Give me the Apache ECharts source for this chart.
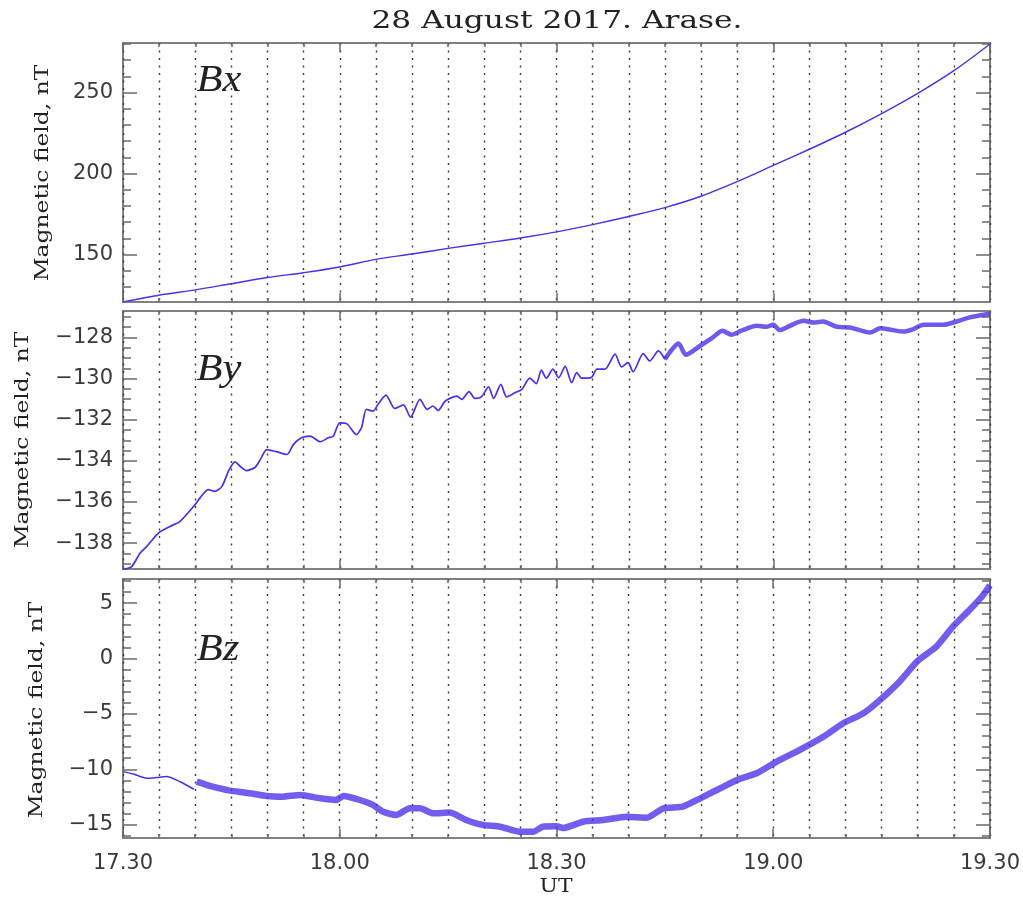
<!DOCTYPE html>
<html>
<head>
<meta charset="utf-8">
<title>28 August 2017. Arase.</title>
<script src="https://cdn.jsdelivr.net/npm/echarts@6/dist/echarts.min.js"></script>
<style>
  html, body { margin: 0; padding: 0; background: #ffffff; }
  #chart { width: 1023px; height: 900px; }
</style>
</head>
<body>
<div id="chart"></div>
<script>
// Time axis: minutes after 17:30 UT
const xTickMinutes = [0, 30, 60, 90, 120];
const xTickLabels = ['17.30', '18.00', '18.30', '19.00', '19.30'];

// Bx component, nT
const bxTime = [0, 5, 10, 15, 20, 25, 30, 35, 40, 45, 50, 55, 60, 65, 70, 75, 80, 85, 90, 95, 100, 105, 110, 115, 120];
const bxValues = [120.8, 124.9, 128.2, 132.0, 135.8, 138.8, 142.3, 147.0, 150.3, 153.8, 157.0, 160.2, 164.0, 168.5, 173.5, 179.0, 186.0, 195.0, 205.0, 215.0, 225.5, 237.0, 249.5, 263.5, 280.0];

// By component, nT
const byTime = [0, 1.2, 2.35, 3.3, 4.9, 6.5, 7.9, 9.97, 10.66, 11.8, 12.7, 13.7, 14.6, 15.5, 16.2, 17.1, 18.3, 19.0, 19.9, 21.3,
  22.7, 23.6, 24.7, 25.9, 27.3, 28.4, 29.1, 30.0, 31.0, 32.3, 33.0, 33.7, 34.6, 35.3, 36.4, 37.6, 38.8, 39.8, 41.1, 42.1,
  42.9, 43.6, 44.6, 46.2, 46.9, 47.9, 48.7, 49.6, 50.6, 51.3, 52.3, 53.1, 54.3, 55.2, 56.3, 57.2, 57.9, 58.6, 59.5, 60.3,
  61.2, 62.1, 62.8, 63.5, 64.8, 65.6, 66.7, 68.1, 69.0, 69.9, 70.6, 72.0, 72.9, 74.1, 75.0, 76.9, 77.9, 79.9, 81.5, 83.0,
  84.2, 85.6, 87.7, 89.0, 90.0, 90.9, 92.3, 94.2, 95.6, 96.9, 98.8, 100.6, 103.4, 104.8, 106.6, 108.0, 109.4, 110.8, 113.6, 114.9,
  117.2, 119.1, 120];
const byValues = [-139.28, -139.14, -138.49, -138.16, -137.51, -137.19, -136.94, -136.13, -135.80, -135.40, -135.48, -135.24, -134.50, -134.05, -134.26, -134.47, -134.31, -133.94, -133.45, -133.56,
  -133.69, -133.20, -132.88, -132.80, -133.07, -132.88, -132.80, -132.15, -132.20, -132.72, -132.39, -131.50, -131.58, -131.25, -130.80, -131.45, -131.28, -131.87, -131.01, -131.50,
  -131.33, -131.55, -131.09, -130.85, -131.01, -130.63, -130.96, -130.89, -130.40, -130.96, -130.28, -130.89, -130.68, -130.52, -129.98, -130.24, -129.59, -129.98, -129.54, -129.95,
  -129.40, -130.20, -129.71, -129.98, -129.95, -129.54, -129.54, -128.81, -129.43, -129.22, -129.66, -128.78, -129.14, -128.65, -129.06, -128.29, -128.84, -128.40, -128.03, -127.67,
  -127.87, -127.67, -127.43, -127.48, -127.38, -127.64, -127.43, -127.19, -127.27, -127.22, -127.48, -127.51, -127.76, -127.55, -127.64, -127.71, -127.59, -127.38, -127.38, -127.27,
  -127.02, -126.89, -126.86];

// Bz component, nT
const bzTime = [0, 1.4, 3.3, 4.6, 6.0, 7.9, 9.8, 10.2, 12.0, 14.8, 17.1, 19.9, 22.1, 24.5, 27.3, 29.5, 30.5, 32.8, 34.6, 36.0,
  37.8, 39.7, 41.1, 42.9, 45.2, 47.5, 49.8, 52.2, 54.9, 56.8, 58.1, 60.0, 60.9, 63.7, 66.5, 69.7, 72.5, 74.8, 77.5, 79.9,
  82.2, 85.0, 87.7, 90.5, 93.7, 97.0, 99.7, 102.5, 104.8, 107.5, 109.9, 112.6, 114.9, 117.2, 119.1, 120];
const bzValues = [-10.21, -10.42, -10.81, -10.75, -10.66, -11.12, -11.80, -11.12, -11.50, -11.93, -12.11, -12.41, -12.47, -12.32, -12.62, -12.77, -12.41, -12.77, -13.22, -13.83,
  -14.12, -13.52, -13.52, -13.97, -13.91, -14.57, -15.02, -15.18, -15.63, -15.63, -15.18, -15.15, -15.30, -14.73, -14.58, -14.28, -14.37, -13.52, -13.37, -12.62,
  -11.87, -10.96, -10.36, -9.31, -8.25, -7.05, -5.84, -4.94, -3.74, -2.08, -0.28, 1.08, 2.89, 4.39, 5.75, 6.60];

// Axis ticks for each panel
const bxMajorTicks = [150, 200, 250];
const bxMinorTicks = [130, 140, 160, 170, 180, 190, 210, 220, 230, 240, 260, 270, 280];
const byMajorTicks = [-138, -136, -134, -132, -130, -128];
const byMinorTicks = [-139, -138.5, -137.5, -137, -136.5, -135.5, -135, -134.5, -133.5, -133, -132.5, -131.5, -131, -130.5, -129.5, -129, -128.5, -127.5, -127];
const bzMajorTicks = [-15, -10, -5, 0, 5];
const bzMinorTicks = [-16, -14, -13, -12, -11, -9, -8, -7, -6, -4, -3, -2, -1, 1, 2, 3, 4, 6, 7];

const LINE = '#4d2fe9';
const FRAME = '#808080';
const TICK = '#6a6a6a';
const LABEL_FONT = 'DejaVu Sans';
const SERIF = '"DejaVu Serif"';

const panels = [
  { top: 43,  height: 259, min: 120.7,   max: 280.6,   major: bxMajorTicks, minor: bxMinorTicks },
  { top: 311, height: 258, min: -139.26, max: -126.71, major: byMajorTicks, minor: byMinorTicks },
  { top: 579, height: 259, min: -16.2,   max: 7.17,    major: bzMajorTicks, minor: bzMinorTicks }
];

const pairs = (ts, vs, from, to) => ts.map((t, i) => [t, vs[i]]).filter(p => p[0] >= from && p[0] <= to);
const fmtY = v => (v < 0 ? '\u2212' + Math.abs(v) : String(v));

const grid = [], xAxis = [], yAxis = [];
const dotted = { type: [2, 5.5], color: '#3a3a3a', width: 1.4 };

panels.forEach((p, i) => {
  grid.push({ left: 123, width: 867, top: p.top, height: p.height, show: true,
    borderColor: FRAME, borderWidth: 2, backgroundColor: 'transparent' });

  ['bottom', 'top'].forEach(pos => {
    xAxis.push({
      gridIndex: i, type: 'value', position: pos, min: 0, max: 120, interval: 30,
      axisLine: { show: false, onZero: false },
      axisTick: { show: true, inside: true, length: 9, lineStyle: { color: TICK, width: 1.5 } },
      minorTick: { show: true, splitNumber: 6, length: 4, lineStyle: { color: TICK, width: 1.5 } },
      splitLine: { show: pos === 'bottom', lineStyle: dotted },
      minorSplitLine: { show: pos === 'bottom', lineStyle: dotted },
      axisLabel: {
        show: pos === 'bottom' && i === 2, margin: 15,
        fontFamily: LABEL_FONT, fontSize: 21, color: '#3a3a3a',
        formatter: v => xTickLabels[xTickMinutes.indexOf(v)] || ''
      }
    });
  });

  ['left', 'right'].forEach(pos => {
    [['major', 14], ['minor', 8]].forEach(([kind, len]) => {
      const vals = kind === 'major' ? p.major : p.minor;
      yAxis.push({
        gridIndex: i, type: 'value', position: pos, min: p.min, max: p.max,
        axisLine: { show: false, onZero: false },
        splitLine: { show: false },
        axisTick: { show: true, inside: true, length: len, customValues: vals, lineStyle: { color: TICK, width: 1.5 } },
        axisLabel: {
          show: kind === 'major' && pos === 'left', customValues: vals, margin: 10,
          fontFamily: LABEL_FONT, fontSize: 21, color: '#3a3a3a', formatter: fmtY
        }
      });
    });
  });
});

const lineSeries = (panel, data, width, opacity, smooth) => ({
  type: 'line', xAxisIndex: panel * 2, yAxisIndex: panel * 4, data,
  showSymbol: false, symbol: 'none', smooth: smooth || false, silent: true,
  lineStyle: { color: LINE, width, opacity }, z: 5
});

const series = [
  lineSeries(0, pairs(bxTime, bxValues, 0, 120), 1.4, 1, 0.3),
  lineSeries(1, pairs(byTime, byValues, 0, 75), 1.7, 1, 0.25),
  lineSeries(1, pairs(byTime, byValues, 75, 120), 4.5, 0.8, 0.25),
  lineSeries(2, pairs(bzTime, bzValues, 0, 9.9), 1.5, 1, 0.25),
  lineSeries(2, pairs(bzTime, bzValues, 9.9, 120), 6.5, 0.78, 0.2)
];

const textEl = (text, x, y, font, extra) => Object.assign({
  type: 'text', x, y, silent: true,
  style: { text, font, fill: '#222', align: 'center', verticalAlign: 'middle',
    textAlign: 'center', textVerticalAlign: 'middle' }
}, extra || {});

const axisName = (x, y) => textEl('Magnetic field, nT', x, y, '18px ' + SERIF,
  { rotation: Math.PI / 2, scaleX: 1.3 });

const graphic = [
  textEl('28 August 2017. Arase.', 557, 21, '25px ' + SERIF, { scaleX: 1.25 }),
  axisName(43, 173),
  axisName(23, 440),
  axisName(37, 710),
  textEl('UT', 556, 887, '19px ' + SERIF, { scaleX: 1.15 }),
  textEl('Bx', 219, 81, 'italic 37px "Liberation Serif"', { scaleX: 1.15 }),
  textEl('By', 219, 370, 'italic 37px "Liberation Serif"', { scaleX: 1.15 }),
  textEl('Bz', 218, 650, 'italic 37px "Liberation Serif"', { scaleX: 1.15 })
];

const chart = echarts.init(document.getElementById('chart'), null, { renderer: 'canvas' });
chart.setOption({
  animation: false,
  backgroundColor: '#ffffff',
  grid, xAxis, yAxis, series, graphic
});
</script>
</body>
</html>
